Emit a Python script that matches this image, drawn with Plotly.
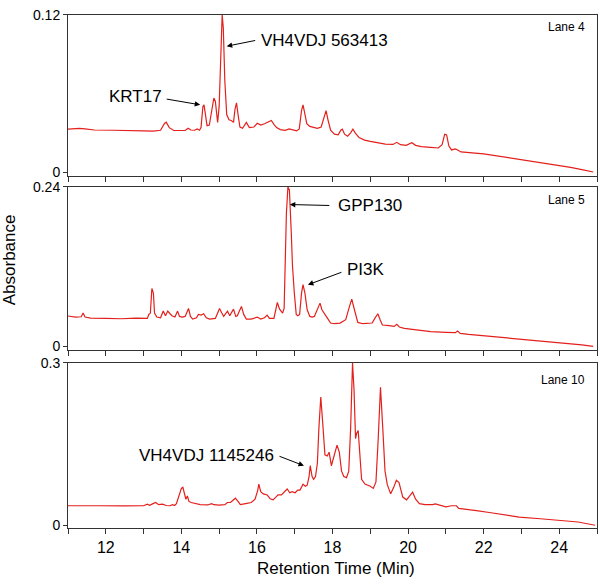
import plotly.graph_objects as go

# ---------------- data (retention time in min, absorbance) ----------------
lane4_t = [11.00, 11.30, 11.45, 11.70, 12.20, 12.60, 12.80, 13.00, 13.25, 13.45, 13.55, 13.60, 13.68, 13.80,
           14.10, 14.18, 14.25, 14.35, 14.42, 14.48, 14.52, 14.57, 14.60, 14.64, 14.68, 14.74, 14.80, 14.86,
           14.90, 14.93, 14.96, 15.00, 15.04, 15.08, 15.11, 15.15, 15.20, 15.26, 15.32, 15.38, 15.42, 15.46,
           15.50, 15.55, 15.62, 15.72, 15.80, 15.92, 16.01, 16.10, 16.20, 16.30, 16.38, 16.45, 16.52, 16.62,
           16.75, 16.85, 16.95, 17.05, 17.12, 17.18, 17.22, 17.27, 17.32, 17.40, 17.50, 17.60, 17.70, 17.76,
           17.83, 17.88, 17.95, 18.05, 18.15, 18.22, 18.26, 18.32, 18.40, 18.48, 18.54, 18.60, 18.70, 18.85,
           19.00, 19.40, 19.60, 19.70, 19.80, 19.95, 20.10, 20.20, 20.35, 20.60, 20.80, 20.90, 20.97, 21.02,
           21.08, 21.15, 21.25, 21.30, 21.40, 22.00, 22.50, 23.00, 23.50, 24.00, 24.30, 24.60, 24.90]
lane4_a = [0.0328, 0.0335, 0.0330, 0.0322, 0.0320, 0.0318, 0.0322, 0.0316, 0.0314, 0.0320, 0.0370, 0.0382, 0.0340, 0.0318,
           0.0318, 0.0336, 0.0322, 0.0320, 0.0330, 0.0320, 0.0340, 0.0500, 0.0514, 0.0420, 0.0355, 0.0360, 0.0480, 0.0566,
           0.0540, 0.0440, 0.0380, 0.0500, 0.0950, 0.1200, 0.1100, 0.0700, 0.0440, 0.0400, 0.0395, 0.0380, 0.0480, 0.0529,
           0.0440, 0.0345, 0.0335, 0.0380, 0.0340, 0.0345, 0.0373, 0.0360, 0.0370, 0.0385, 0.0395, 0.0365, 0.0340, 0.0325,
           0.0320, 0.0330, 0.0322, 0.0315, 0.0330, 0.0470, 0.0514, 0.0440, 0.0370, 0.0350, 0.0340, 0.0335, 0.0345, 0.0400,
           0.0470, 0.0400, 0.0320, 0.0290, 0.0285, 0.0320, 0.0328, 0.0290, 0.0275, 0.0300, 0.0328, 0.0300, 0.0265, 0.0245,
           0.0235, 0.0215, 0.0212, 0.0228, 0.0210, 0.0205, 0.0225, 0.0205, 0.0195, 0.0190, 0.0185, 0.0210, 0.0290, 0.0285,
           0.0200, 0.0170, 0.0178, 0.0172, 0.0155, 0.0140, 0.0118, 0.0097, 0.0075, 0.0050, 0.0037, 0.0020, 0.0002]

lane5_t = [11.00, 11.20, 11.35, 11.40, 11.45, 11.60, 12.00, 12.40, 12.80, 13.10, 13.14, 13.18, 13.22, 13.26, 13.29,
           13.35, 13.45, 13.52, 13.58, 13.64, 13.70, 13.75, 13.83, 13.90, 13.95, 14.02, 14.10, 14.19, 14.24, 14.30,
           14.40, 14.45, 14.52, 14.59, 14.66, 14.75, 14.90, 15.01, 15.07, 15.12, 15.22, 15.28, 15.38, 15.44, 15.48,
           15.59, 15.65, 15.72, 15.85, 16.01, 16.10, 16.20, 16.27, 16.33, 16.45, 16.54, 16.60, 16.64, 16.68, 16.72,
           16.75, 16.78, 16.82, 16.86, 16.91, 16.94, 16.99, 17.04, 17.08, 17.13, 17.18, 17.22, 17.27, 17.33, 17.40,
           17.46, 17.52, 17.60, 17.67, 17.72, 17.80, 17.87, 17.95, 18.05, 18.20, 18.35, 18.45, 18.51, 18.58, 18.67,
           18.80, 18.95, 19.05, 19.12, 19.20, 19.26, 19.32, 19.50, 19.63, 19.70, 19.77, 19.90, 20.20, 20.60, 21.00,
           21.25, 21.31, 21.38, 21.60, 22.00, 22.50, 23.00, 23.50, 23.92, 24.30, 24.60, 24.90]
lane5_a = [0.0456, 0.0440, 0.0445, 0.0500, 0.0440, 0.0425, 0.0420, 0.0415, 0.0425, 0.0420, 0.0480, 0.0500, 0.0870, 0.0800, 0.0500,
           0.0440, 0.0430, 0.0530, 0.0460, 0.0530, 0.0490, 0.0460, 0.0440, 0.0530, 0.0450, 0.0440, 0.0450, 0.0570, 0.0450, 0.0410,
           0.0430, 0.0480, 0.0470, 0.0490, 0.0430, 0.0410, 0.0420, 0.0570, 0.0500, 0.0450, 0.0530, 0.0460, 0.0560, 0.0450, 0.0460,
           0.0600, 0.0480, 0.0410, 0.0410, 0.0440, 0.0410, 0.0430, 0.0470, 0.0420, 0.0420, 0.0660, 0.0560, 0.0530, 0.0500, 0.0570,
           0.1460, 0.2000, 0.2400, 0.2350, 0.1700, 0.1220, 0.0800, 0.0480, 0.0460, 0.0480, 0.0800, 0.0930, 0.0800, 0.0550, 0.0450,
           0.0440, 0.0450, 0.0560, 0.0650, 0.0550, 0.0490, 0.0420, 0.0350, 0.0340, 0.0350, 0.0400, 0.0600, 0.0710, 0.0550, 0.0360,
           0.0340, 0.0340, 0.0350, 0.0420, 0.0490, 0.0400, 0.0320, 0.0310, 0.0300, 0.0330, 0.0290, 0.0270, 0.0250, 0.0220, 0.0210,
           0.0205, 0.0230, 0.0195, 0.0180, 0.0160, 0.0130, 0.0105, 0.0080, 0.0060, 0.0040, 0.0020, 0.0000]

lane10_t = [11.00, 11.50, 11.70, 11.80, 12.50, 13.00, 13.10, 13.16, 13.25, 13.32, 13.40, 13.50, 13.60, 13.70, 13.76,
            13.82, 13.87, 13.95, 14.00, 14.04, 14.08, 14.12, 14.16, 14.20, 14.26, 14.35, 14.50, 14.70, 14.80, 14.86,
            15.00, 15.15, 15.22, 15.30, 15.38, 15.43, 15.50, 15.56, 15.70, 15.85, 15.95, 16.02, 16.05, 16.10, 16.17,
            16.27, 16.35, 16.43, 16.50, 16.56, 16.65, 16.73, 16.80, 16.87, 16.93, 17.01, 17.08, 17.14, 17.22, 17.28,
            17.33, 17.38, 17.41, 17.46, 17.50, 17.55, 17.60, 17.64, 17.69, 17.74, 17.80, 17.86, 17.91, 17.97, 18.04,
            18.12, 18.18, 18.24, 18.30, 18.37, 18.43, 18.48, 18.53, 18.57, 18.61, 18.64, 18.68, 18.72, 18.77, 18.86,
            19.00, 19.08, 19.15, 19.21, 19.27, 19.33, 19.39, 19.45, 19.54, 19.62, 19.69, 19.76, 19.86, 19.96, 20.05,
            20.12, 20.20, 20.30, 20.45, 20.65, 20.72, 20.90, 21.00, 21.15, 21.28, 21.34, 21.60, 21.81, 22.15, 22.50,
            22.94, 23.50, 24.00, 24.50, 24.95]
lane10_a = [0.0360, 0.0362, 0.0370, 0.0360, 0.0358, 0.0360, 0.0390, 0.0370, 0.0400, 0.0420, 0.0380, 0.0390, 0.0365, 0.0360, 0.0380,
            0.0365, 0.0400, 0.0580, 0.0680, 0.0700, 0.0600, 0.0480, 0.0540, 0.0440, 0.0420, 0.0400, 0.0380, 0.0375, 0.0400, 0.0380,
            0.0370, 0.0380, 0.0420, 0.0420, 0.0460, 0.0500, 0.0440, 0.0380, 0.0400, 0.0420, 0.0480, 0.0640, 0.0760, 0.0620, 0.0580,
            0.0560, 0.0490, 0.0470, 0.0520, 0.0560, 0.0560, 0.0620, 0.0670, 0.0600, 0.0620, 0.0600, 0.0650, 0.0650, 0.0760, 0.0720,
            0.0740, 0.0900, 0.1100, 0.0900, 0.0850, 0.0900, 0.1150, 0.1800, 0.2370, 0.1900, 0.1300, 0.1280, 0.1350, 0.1100, 0.1300,
            0.1480, 0.1350, 0.1000, 0.0900, 0.0880, 0.1000, 0.1800, 0.3000, 0.2500, 0.1600, 0.1700, 0.1750, 0.1400, 0.0850, 0.0760,
            0.0720, 0.0680, 0.0800, 0.1600, 0.2550, 0.1800, 0.1000, 0.0750, 0.0580, 0.0700, 0.0830, 0.0790, 0.0520, 0.0470, 0.0560,
            0.0610, 0.0480, 0.0400, 0.0380, 0.0380, 0.0395, 0.0360, 0.0340, 0.0360, 0.0360, 0.0310, 0.0295, 0.0270, 0.0235, 0.0200,
            0.0150, 0.0120, 0.0090, 0.0060, 0.0000]

lane_names = ["Lane 4", "Lane 5", "Lane 10"]
y_ranges = [[-0.003, 0.12], [-0.0059, 0.24], [-0.0054, 0.30]]
y_tickvals = [[0, 0.12], [0, 0.24], [0, 0.3]]
y_ticktext = [["0", "0.12"], ["0", "0.24"], ["0", "0.3"]]
x_tickvals = list(range(11, 26))
x_ticktext = ["" if v % 2 else str(v) for v in x_tickvals]

# ---------------- figure ----------------
FONT = "Liberation Sans, Arial, sans-serif"
RED = "#e3201c"
AX = "#333333"

fig = go.Figure()
series = [(lane4_t, lane4_a), (lane5_t, lane5_a), (lane10_t, lane10_a)]
for i, (t, a) in enumerate(series):
    sfx = "" if i == 0 else str(i + 1)
    fig.add_trace(go.Scatter(x=t, y=a, mode="lines", line=dict(color=RED, width=1.2),
                             xaxis="x" + sfx, yaxis="y" + sfx, showlegend=False, hoverinfo="skip"))

W, H = 600, 584
xdom = [68 / W, 597 / W]
ydoms = [[1 - 172 / H, 1 - 7 / H], [1 - 350 / H, 1 - 183 / H], [1 - 532 / H, 1 - 363 / H]]

layout = dict(width=W, height=H, margin=dict(l=0, r=0, t=0, b=0),
              paper_bgcolor="white", plot_bgcolor="white",
              font=dict(family=FONT, size=14, color="black"))
for i in range(3):
    sfx = "" if i == 0 else str(i + 1)
    layout["xaxis" + sfx] = dict(domain=xdom, anchor="y" + sfx, range=[11, 25],
                                 tickmode="array", tickvals=x_tickvals,
                                 ticktext=x_ticktext if i == 2 else [""] * len(x_tickvals),
                                 ticks="outside", ticklen=5, tickwidth=1, tickcolor=AX,
                                 showline=True, linecolor=AX, linewidth=1, mirror=True,
                                 showgrid=False, zeroline=False,
                                 tickfont=dict(size=16, family=FONT, color="black"))
    layout["yaxis" + sfx] = dict(domain=ydoms[i], anchor="x" + sfx, range=y_ranges[i],
                                 tickmode="array", tickvals=y_tickvals[i], ticktext=y_ticktext[i],
                                 ticks="outside", ticklen=4, tickwidth=1, tickcolor=AX,
                                 showline=True, linecolor=AX, linewidth=1, mirror=True,
                                 showgrid=False, zeroline=False,
                                 tickfont=dict(size=14, family=FONT, color="black"))
fig.update_layout(**layout)

ann = []
# lane labels
lane_y = [0.111, 0.2208, 0.269]
for i, name in enumerate(lane_names):
    sfx = "" if i == 0 else str(i + 1)
    ann.append(dict(text=name, x=24.73, y=lane_y[i], xref="x" + sfx, yref="y" + sfx,
                    xanchor="right", yanchor="middle", showarrow=False,
                    font=dict(size=12, family=FONT, color="black")))

# peak labels: (text, panel, text_x, text_y, anchor, head_x, head_y, ax_px, ay_px)
labels = [
    ("VH4VDJ 563413", 0, 16.05, 0.1006, "left", 15.20, 0.0961, 30, -6),
    ("KRT17", 0, 13.54, 0.0574, "right", 14.50, 0.0514, -35, -6),
    ("GPP130", 1, 18.09, 0.212, "left", 16.87, 0.2135, 41, 1),
    ("PI3K", 1, 18.33, 0.1163, "left", 17.35, 0.0927, 35, -13),
    ("VH4VDJ 1145246", 2, 16.50, 0.128, "right", 17.245, 0.110, -26, -10),
]
for text, p, tx, ty, anc, hx, hy, axp, ayp in labels:
    sfx = "" if p == 0 else str(p + 1)
    ann.append(dict(text=text, x=tx, y=ty, xref="x" + sfx, yref="y" + sfx,
                    xanchor=anc, yanchor="middle", showarrow=False,
                    font=dict(size=17, family=FONT, color="black")))
    ann.append(dict(text="", x=hx, y=hy, xref="x" + sfx, yref="y" + sfx,
                    showarrow=True, ax=axp, ay=ayp, arrowhead=2, arrowsize=1.1,
                    arrowwidth=1, arrowcolor="black", standoff=0, startstandoff=0))

# axis titles
ann.append(dict(text="Absorbance", x=9 / W, y=1 - 258 / H, xref="paper", yref="paper",
                textangle=-90, showarrow=False, xanchor="center", yanchor="middle",
                font=dict(size=17, family=FONT, color="black")))
ann.append(dict(text="Retention Time (Min)", x=336 / W, y=1 - 573 / H, xref="paper", yref="paper",
                showarrow=False, xanchor="center", yanchor="middle",
                font=dict(size=17, family=FONT, color="black")))
fig.update_layout(annotations=ann)

fig.write_html("out.html", config={"displayModeBar": False},
               post_script="document.body.style.margin='0';document.body.style.overflow='hidden';")
